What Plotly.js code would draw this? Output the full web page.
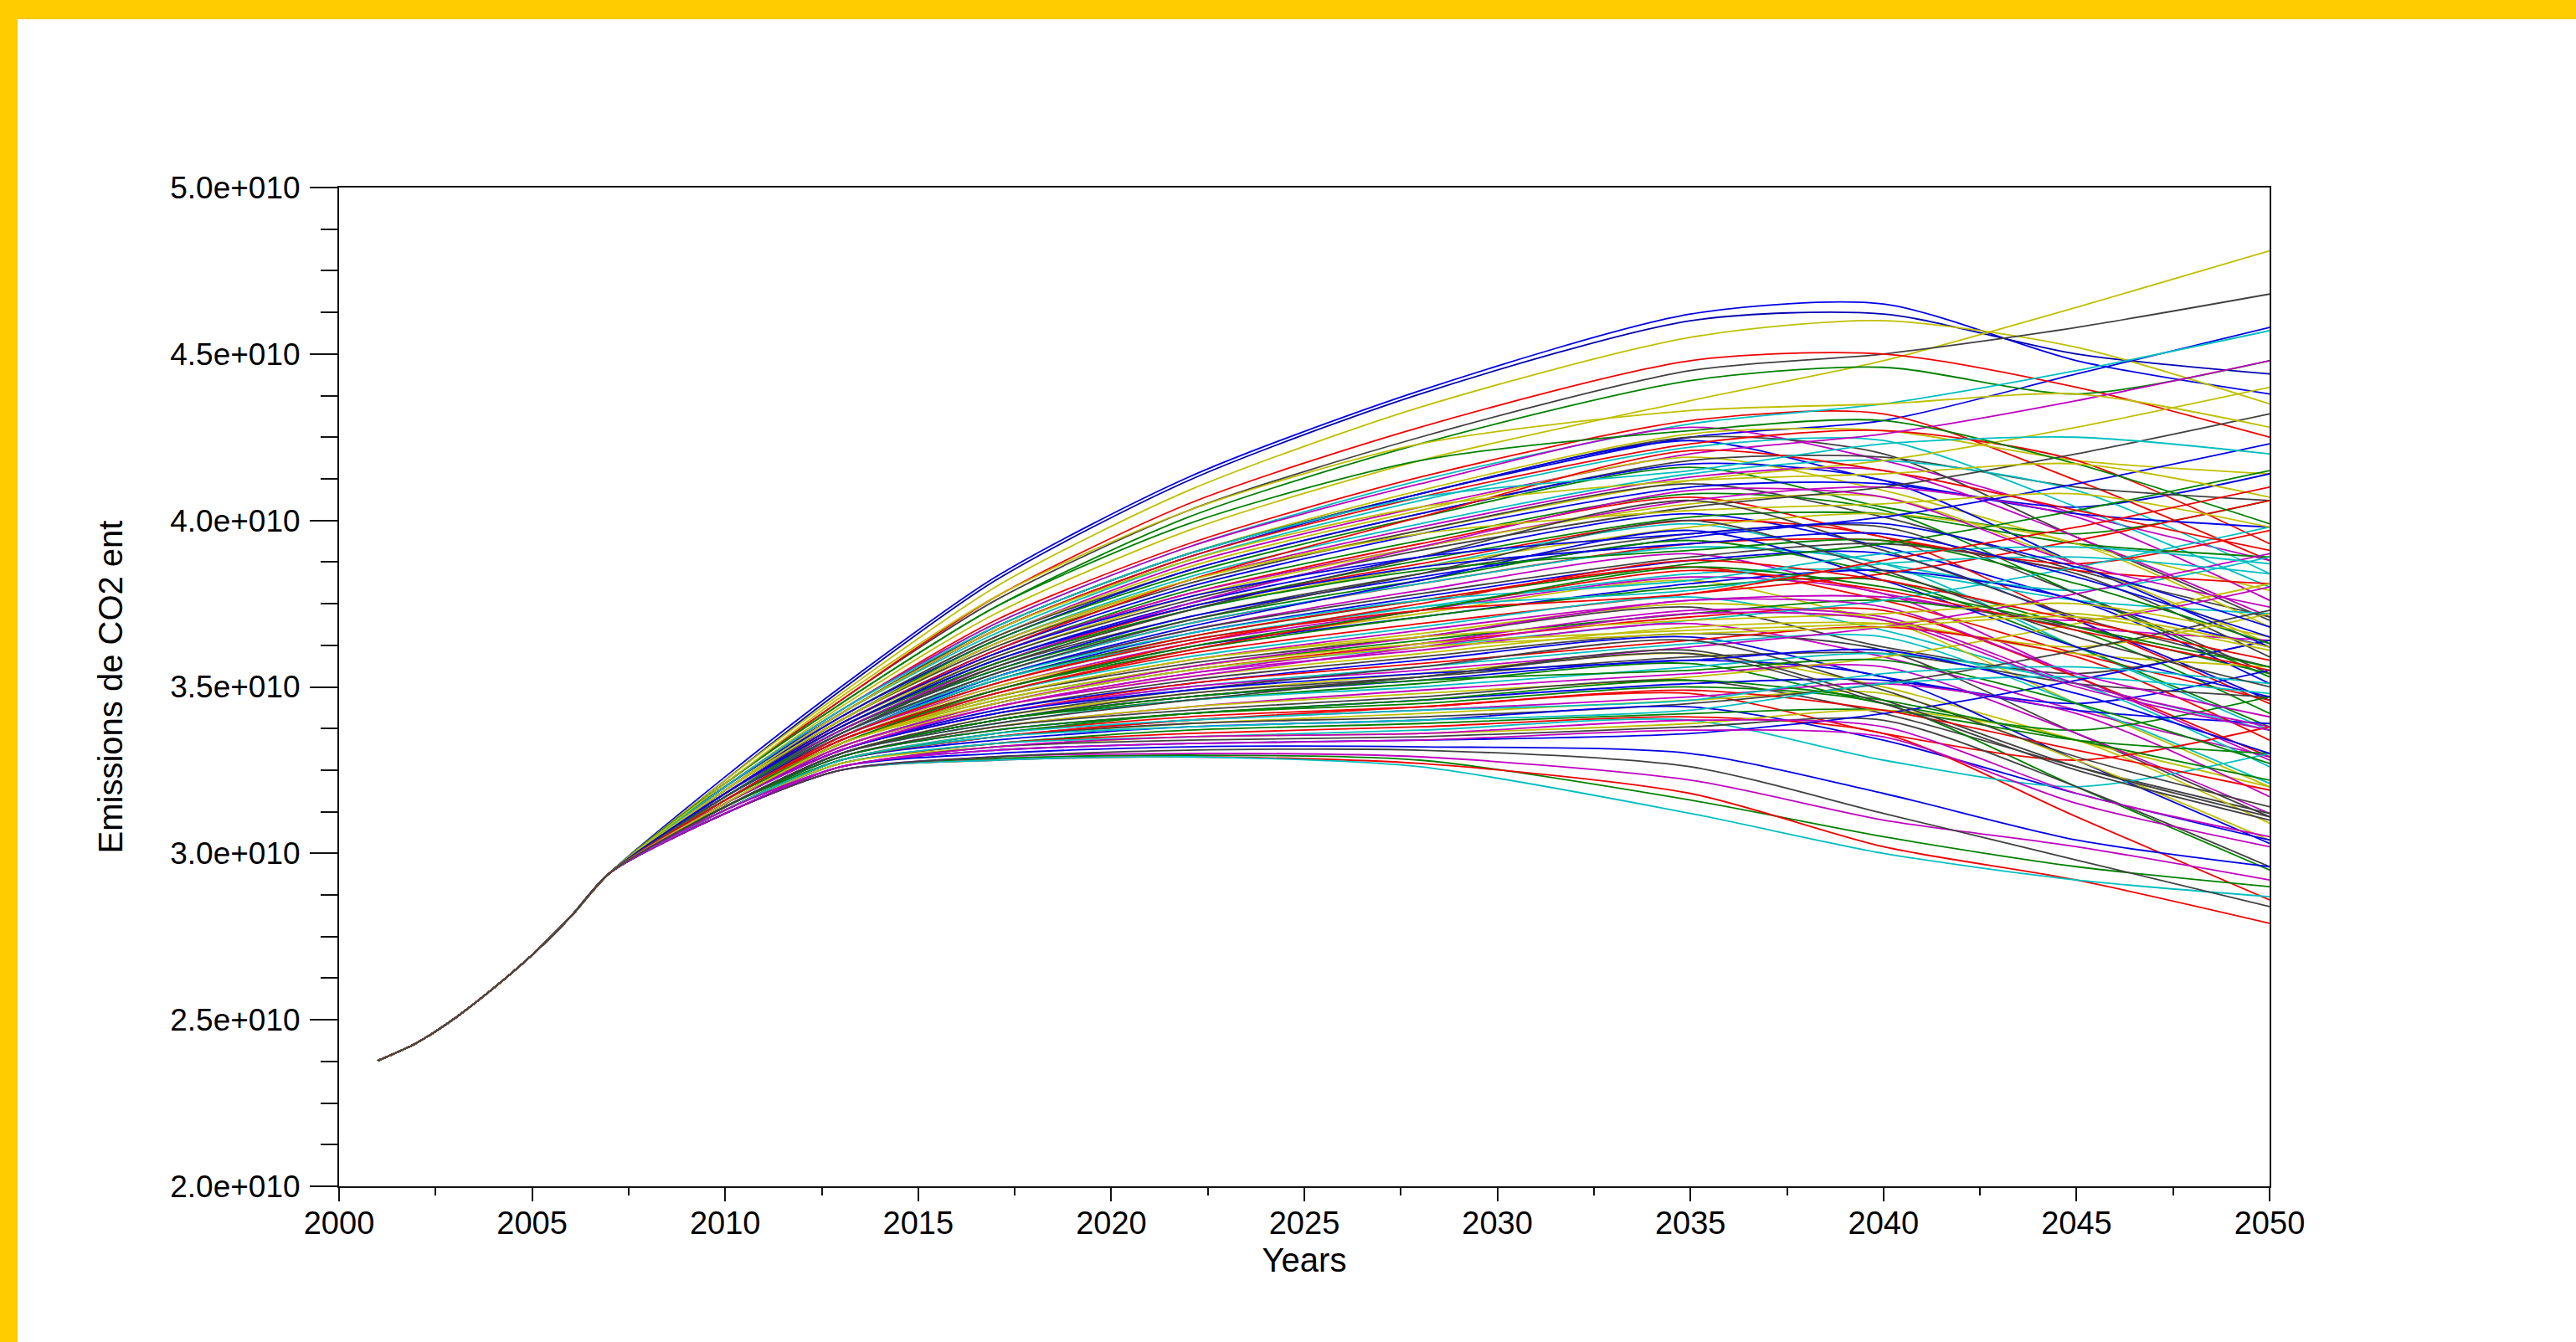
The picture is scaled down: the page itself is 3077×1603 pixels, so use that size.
<!DOCTYPE html>
<html>
<head>
<meta charset="utf-8">
<script src="https://cdn.plot.ly/plotly-3.0.1.min.js"></script>
<style>
html,body{margin:0;padding:0;background:#ffffff;overflow:hidden;}
#chart{position:absolute;left:0;top:0;width:3077px;height:1603px;}
#topbar{position:absolute;left:0;top:0;width:3077px;height:23px;background:#FFCC00;}
#leftbar{position:absolute;left:0;top:0;width:21px;height:1603px;background:#FFCC00;}
</style>
</head>
<body>
<div id="chart"></div>
<div id="topbar"></div>
<div id="leftbar"></div>
<script>
// Values in units of 1e10 (t CO2). Years at which values were read.
const years = [2001, 2002, 2003, 2004, 2005, 2006, 2007, 2010, 2013, 2017, 2022, 2028, 2035, 2040, 2045, 2050];
// 2001-2007: all runs share the same historical path
const commonStart = [2.377, 2.43, 2.505, 2.595, 2.695, 2.81, 2.94];

const e2010 = [3.23,3.22,3.22,3.20,3.21,3.20,3.21,3.21,
 3.20,3.20,3.20,3.20,3.20,3.20,3.19,3.19,3.19,3.19,
 3.19,3.19,3.19,3.19,3.19,3.19,3.18,3.18,3.18,3.18,
 3.18,3.18,3.18,3.18,3.18,3.18,3.18,3.17,3.17,3.17,
 3.17,3.17,3.17,3.17,3.17,3.17,3.17,3.16,3.16,3.16,
 3.16,3.16,3.16,3.16,3.16,3.16,3.16,3.16,3.15,3.15,
 3.15,3.15,3.15,3.15,3.15,3.15,3.15,3.15,3.14,3.14,
 3.14,3.14,3.14,3.14,3.14,3.14,3.14,3.14,3.13,3.13,
 3.13,3.13,3.13,3.13,3.13,3.13,3.13,3.13,3.12,
 3.12,3.12,3.12,3.12,3.12,3.12,
 3.21,3.18,3.20,3.18,3.19,3.17,3.17,3.16,3.16,3.15,3.15,3.14,3.14,3.13,3.13,3.12,3.21,3.17,
 3.18,3.16,3.17,3.15,3.16,3.14,3.15,3.14,3.13,3.13,3.19,3.17,3.18,3.16,3.16,3.15,3.15,3.14];
const e2013 = [3.50,3.49,3.48,3.44,3.46,3.42,3.46,3.45,
 3.43,3.43,3.43,3.42,3.42,3.42,3.42,3.42,3.41,3.41,
 3.41,3.41,3.40,3.40,3.40,3.40,3.40,3.39,3.39,3.39,
 3.39,3.39,3.38,3.38,3.38,3.38,3.37,3.37,3.37,3.37,
 3.37,3.36,3.36,3.36,3.36,3.35,3.35,3.35,3.35,3.35,
 3.34,3.34,3.34,3.34,3.33,3.33,3.33,3.33,3.33,3.32,
 3.32,3.32,3.32,3.31,3.31,3.31,3.31,3.31,3.30,3.30,
 3.30,3.30,3.30,3.29,3.29,3.29,3.29,3.29,3.28,3.28,
 3.28,3.28,3.28,3.27,3.27,3.27,3.27,3.26,3.26,
 3.25,3.25,3.25,3.25,3.25,3.26,
 3.45,3.39,3.43,3.37,3.40,3.35,3.38,3.33,3.35,3.31,3.33,3.30,3.30,3.28,3.28,3.26,3.47,3.36,
 3.39,3.34,3.36,3.32,3.33,3.30,3.31,3.28,3.28,3.26,3.42,3.36,3.38,3.33,3.35,3.31,3.33,3.30];
const e2017 = [3.83,3.82,3.80,3.72,3.76,3.68,3.77,3.74,
 3.70,3.69,3.69,3.68,3.68,3.67,3.67,3.66,3.65,3.65,
 3.65,3.64,3.64,3.63,3.63,3.62,3.62,3.61,3.60,3.60,
 3.60,3.59,3.59,3.58,3.58,3.57,3.57,3.56,3.56,3.55,
 3.55,3.54,3.54,3.53,3.53,3.52,3.52,3.51,3.51,3.50,
 3.50,3.49,3.49,3.48,3.48,3.47,3.47,3.47,3.46,3.45,
 3.45,3.44,3.44,3.43,3.43,3.42,3.42,3.42,3.41,3.40,
 3.40,3.40,3.39,3.38,3.38,3.38,3.37,3.37,3.36,3.35,
 3.35,3.35,3.34,3.33,3.33,3.33,3.32,3.32,3.31,
 3.285,3.28,3.28,3.29,3.29,3.30,
 3.74,3.61,3.68,3.57,3.63,3.53,3.57,3.48,3.52,3.44,3.46,3.40,3.40,3.35,3.35,3.31,3.77,3.56,
 3.60,3.49,3.53,3.45,3.47,3.41,3.42,3.36,3.36,3.32,3.67,3.54,3.58,3.49,3.51,3.44,3.45,3.39];
const e2022 = [4.13,4.12,4.09,3.97,4.03,3.90,4.05,4.01,
 3.93,3.92,3.92,3.90,3.90,3.89,3.89,3.88,3.87,3.86,
 3.85,3.85,3.84,3.83,3.82,3.82,3.81,3.80,3.79,3.78,
 3.78,3.77,3.76,3.75,3.74,3.74,3.73,3.73,3.71,3.71,
 3.70,3.69,3.69,3.67,3.67,3.66,3.65,3.65,3.64,3.63,
 3.62,3.62,3.61,3.60,3.59,3.58,3.58,3.57,3.56,3.55,
 3.55,3.54,3.53,3.52,3.51,3.51,3.50,3.50,3.48,3.48,
 3.47,3.46,3.46,3.44,3.44,3.43,3.42,3.42,3.41,3.40,
 3.39,3.39,3.38,3.37,3.36,3.35,3.35,3.34,3.33,
 3.295,3.29,3.29,3.30,3.31,3.32,
 3.99,3.82,3.90,3.75,3.82,3.68,3.73,3.61,3.64,3.54,3.56,3.47,3.47,3.40,3.38,3.33,4.03,3.73,
 3.77,3.63,3.66,3.56,3.58,3.49,3.49,3.42,3.40,3.35,3.88,3.70,3.74,3.62,3.64,3.53,3.55,3.46];
const e2028 = [4.39,4.38,4.34,4.18,4.25,4.08,4.28,4.23,
 4.13,4.12,4.11,4.09,4.08,4.08,4.07,4.06,4.04,4.03,
 4.02,4.02,4.01,3.99,3.98,3.97,3.97,3.96,3.94,3.93,
 3.92,3.92,3.91,3.89,3.88,3.87,3.86,3.86,3.84,3.83,
 3.82,3.81,3.81,3.79,3.78,3.77,3.76,3.76,3.74,3.73,
 3.72,3.71,3.71,3.69,3.68,3.67,3.66,3.65,3.64,3.63,
 3.62,3.61,3.60,3.59,3.58,3.57,3.56,3.55,3.54,3.53,
 3.52,3.51,3.50,3.49,3.48,3.47,3.46,3.45,3.44,3.43,
 3.42,3.41,3.40,3.39,3.38,3.37,3.36,3.35,3.34,
 3.28,3.27,3.26,3.29,3.31,3.32,
 4.18,4.01,4.07,3.92,3.96,3.82,3.85,3.73,3.74,3.63,3.63,3.53,3.52,3.44,3.40,3.34,4.23,3.89,
 3.89,3.75,3.76,3.65,3.65,3.56,3.54,3.46,3.43,3.36,4.04,3.84,3.86,3.73,3.73,3.62,3.62,3.53];
const e2035 = [4.62,4.60,4.55,4.36,4.45,4.25,4.48,4.42,
 4.30,4.29,4.28,4.26,4.25,4.24,4.23,4.22,4.20,4.19,
 4.18,4.17,4.16,4.14,4.13,4.12,4.11,4.10,4.08,4.07,
 4.06,4.05,4.04,4.02,4.01,4.00,3.99,3.98,3.96,3.95,
 3.94,3.93,3.92,3.90,3.89,3.88,3.87,3.86,3.84,3.83,
 3.82,3.81,3.80,3.78,3.77,3.76,3.75,3.74,3.72,3.71,
 3.70,3.69,3.68,3.66,3.65,3.64,3.63,3.62,3.60,3.59,
 3.58,3.57,3.56,3.54,3.53,3.52,3.51,3.50,3.48,3.47,
 3.46,3.45,3.44,3.42,3.41,3.40,3.39,3.38,3.36,
 3.16,3.18,3.12,3.22,3.26,3.30,
 4.27,4.21,4.15,4.09,4.03,3.97,3.91,3.85,3.79,3.73,3.67,3.61,3.55,3.49,3.43,3.37,4.33,4.06,
 3.96,3.88,3.82,3.76,3.70,3.64,3.58,3.52,3.46,3.40,4.12,4.00,3.93,3.86,3.78,3.72,3.66,3.60];
const e2040 = [4.65,4.62,4.60,4.48,4.50,4.30,4.50,4.46,
 4.32,4.35,4.18,4.27,4.20,4.12,4.27,4.24,4.26,4.09,
 4.19,4.12,4.04,4.18,4.15,4.18,4.01,4.11,4.03,3.95,
 4.10,4.07,4.10,3.92,4.02,3.95,3.87,4.02,3.98,4.01,
 3.84,3.94,3.87,3.78,3.93,3.90,3.93,3.76,3.85,3.78,
 3.70,3.85,3.82,3.84,3.67,3.77,3.70,3.62,3.76,3.73,
 3.76,3.59,3.69,3.61,3.53,3.68,3.65,3.68,3.50,3.60,
 3.53,3.45,3.60,3.56,3.59,3.42,3.52,3.45,3.36,3.51,
 3.48,3.51,3.34,3.43,3.36,3.28,3.43,3.40,3.42,
 3.05,3.02,3.00,3.10,3.12,3.18,
 4.30,4.15,4.23,4.07,4.05,3.82,3.94,3.79,3.87,3.71,3.69,3.46,3.58,3.43,3.51,3.35,4.35,3.91,
 3.99,3.82,3.90,3.74,3.72,3.49,3.61,3.46,3.54,3.38,4.14,3.85,3.96,3.80,3.88,3.70,3.68,3.45];
const e2045 = [4.48,4.50,4.52,4.64,4.58,4.44,4.40,4.38,
 4.12,4.45,4.02,4.18,3.95,4.04,4.18,4.04,4.36,3.93,
 4.10,3.87,3.96,4.09,3.95,4.28,3.85,4.02,3.78,3.87,
 4.01,3.87,4.20,3.76,3.93,3.70,3.79,3.93,3.78,4.11,
 3.68,3.85,3.62,3.70,3.84,3.70,4.03,3.60,3.76,3.53,
 3.62,3.76,3.62,3.94,3.51,3.68,3.45,3.54,3.67,3.53,
 3.86,3.43,3.60,3.36,3.45,3.59,3.45,3.78,3.34,3.51,
 3.28,3.37,3.51,3.36,3.69,3.26,3.43,3.20,3.28,3.42,
 3.28,3.61,3.18,3.34,3.11,3.20,3.34,3.20,3.52,
 2.96,2.92,2.92,3.02,2.98,3.04,
 4.17,4.03,4.25,3.87,4.08,3.62,3.81,3.67,3.89,3.51,3.72,3.26,3.45,3.31,3.53,3.15,4.38,3.71,
 3.86,3.70,3.92,3.54,3.75,3.29,3.48,3.34,3.56,3.18,4.17,3.65,3.83,3.68,3.98,3.50,3.71,3.25];
const e2050 = [4.38,4.44,4.35,4.81,4.68,4.58,4.25,4.48,
 3.88,4.57,3.88,4.14,3.70,4.14,3.93,3.80,4.48,3.79,
 4.06,3.62,4.06,3.84,3.71,4.40,3.71,3.98,3.53,3.97,
 3.76,3.63,4.32,3.62,3.89,3.45,3.89,3.68,3.54,4.23,
 3.54,3.81,3.37,3.80,3.59,3.46,4.15,3.46,3.72,3.28,
 3.72,3.51,3.38,4.06,3.37,3.64,3.20,3.64,3.42,3.29,
 3.98,3.29,3.56,3.11,3.55,3.34,3.21,3.90,3.20,3.47,
 3.03,3.47,3.26,3.12,3.81,3.12,3.39,2.95,3.38,3.17,
 3.04,3.73,3.04,3.30,2.86,3.30,3.09,2.96,3.64,
 2.90,2.79,2.87,2.92,2.84,2.96,
 3.99,3.91,4.20,3.74,3.98,3.47,3.63,3.55,3.84,3.38,3.62,3.11,3.27,3.19,3.48,3.02,4.28,3.56,
 3.68,3.58,3.87,3.41,3.65,3.14,3.30,3.22,3.51,3.05,4.07,3.50,3.65,3.56,4.10,3.37,3.61,3.10];

const xTickVals = [2000, 2005, 2010, 2015, 2020, 2025, 2030, 2035, 2040, 2045, 2050];
const yTickVals = [2.0, 2.5, 3.0, 3.5, 4.0, 4.5, 5.0];
const yTickText = ['2.0e+010', '2.5e+010', '3.0e+010', '3.5e+010', '4.0e+010', '4.5e+010', '5.0e+010'];

// Scilab/Matlab style colour order; the first few (outermost) runs have their own colours
const palette = ['#0000E6', '#008000', '#F00000', '#00BFBF', '#BF00BF', '#BFBF00', '#404040'];
const leadColors = ['#0000E6', '#0000B0', '#BFBF00', '#BFBF00', '#404040', '#0000E6', '#F00000', '#008000'];

const series = [e2010, e2013, e2017, e2022, e2028, e2035, e2040, e2045, e2050];
const nRuns = Math.min.apply(null, series.map(a => a.length));
const traces = [];
for (let i = 0; i < nRuns; i++) {
  const y = commonStart.concat(series.map(a => a[i]));
  const color = i < leadColors.length ? leadColors[i] : palette[(i + Math.floor(i / 7)) % 7];
  traces.push({
    type: 'scatter', mode: 'lines', x: years, y: y,
    line: {color: color, width: 1.8, shape: 'spline', smoothing: 0.75},
    hoverinfo: 'skip', showlegend: false
  });
}

const font = 'Liberation Sans, Arial, Helvetica, sans-serif';
const layout = {
  width: 3077, height: 1603,
  margin: {l: 405, r: 366, t: 224, b: 186},
  paper_bgcolor: '#ffffff', plot_bgcolor: '#ffffff',
  showlegend: false,
  font: {family: font, color: '#000000'},
  xaxis: {
    range: [2000, 2050], tickmode: 'array', tickvals: xTickVals,
    ticks: 'outside', ticklen: 16, tickwidth: 2, tickcolor: '#111',
    ticklabelstandoff: -7,
    showline: true, linecolor: '#111', linewidth: 2, mirror: true,
    showgrid: false, zeroline: false,
    tickfont: {family: font, size: 38, color: '#000'},
    minor: {tickmode: 'linear', tick0: 2000, dtick: 2.5, ticks: 'outside', ticklen: 9, tickwidth: 2, tickcolor: '#111', showgrid: false},
    title: {text: 'Years', font: {family: font, size: 40, color: '#000'}, standoff: 10}
  },
  yaxis: {
    range: [2, 5], tickmode: 'array', tickvals: yTickVals, ticktext: yTickText,
    ticks: 'outside', ticklen: 33, tickwidth: 2, tickcolor: '#111',
    ticklabelstandoff: 4,
    showline: true, linecolor: '#111', linewidth: 2, mirror: true,
    showgrid: false, zeroline: false,
    tickfont: {family: font, size: 37, color: '#000'},
    minor: {tickmode: 'linear', tick0: 2, dtick: 0.125, ticks: 'outside', ticklen: 20, tickwidth: 2, tickcolor: '#111', showgrid: false},
    title: {text: 'Emissions de CO2 ent', font: {family: font, size: 40, color: '#000'}, standoff: 44}
  }
};

Plotly.newPlot('chart', traces, layout, {staticPlot: true, displayModeBar: false});
</script>
</body>
</html>
